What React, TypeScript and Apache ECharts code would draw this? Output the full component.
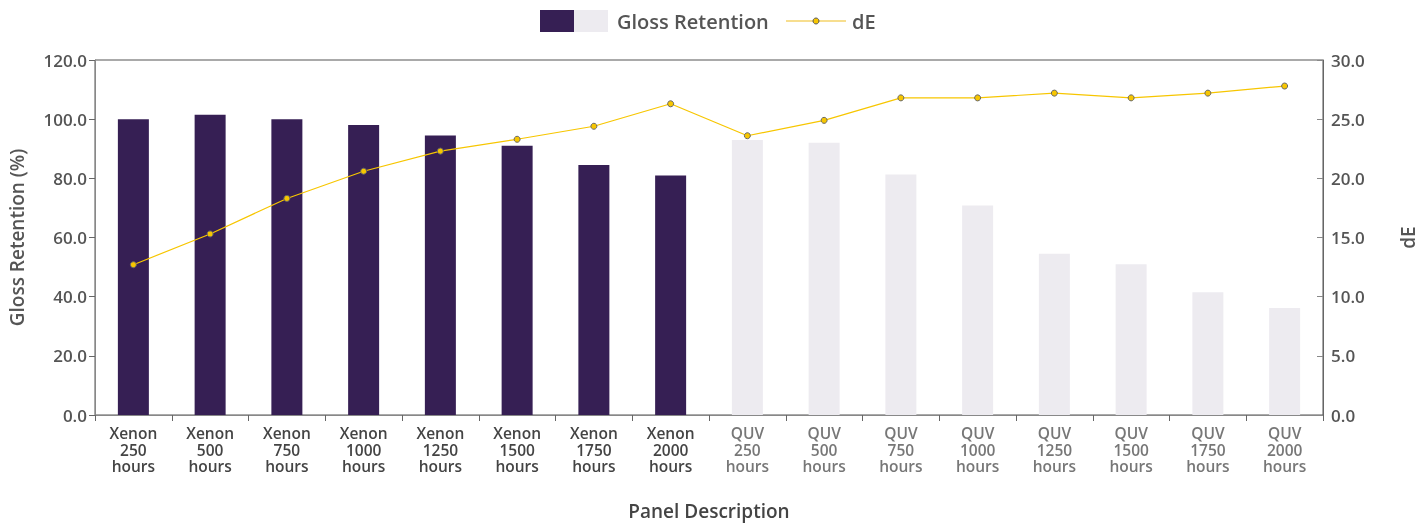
import React, { useEffect, useRef } from "react";
import * as echarts from "echarts";

const categories = [
  "Xenon\n250\nhours", "Xenon\n500\nhours", "Xenon\n750\nhours", "Xenon\n1000\nhours",
  "Xenon\n1250\nhours", "Xenon\n1500\nhours", "Xenon\n1750\nhours", "Xenon\n2000\nhours",
  "QUV\n250\nhours", "QUV\n500\nhours", "QUV\n750\nhours", "QUV\n1000\nhours",
  "QUV\n1250\nhours", "QUV\n1500\nhours", "QUV\n1750\nhours", "QUV\n2000\nhours",
];
const glossRetention = [100, 101.5, 100, 98, 94.5, 91, 84.5, 81, 93, 92, 81.3, 70.8, 54.5, 51, 41.5, 36.2];
const dE = [12.7, 15.3, 18.3, 20.6, 22.3, 23.3, 24.4, 26.3, 23.6, 24.9, 26.8, 26.8, 27.2, 26.8, 27.2, 27.8];
const leftTicks = { min: 0, max: 120, interval: 20 };
const rightTicks = { min: 0, max: 30, interval: 5 };

const DARK = "#361f54";
const LIGHT = "#edebf0";
const YELLOW = "#f7c600";
const FONT = "Open Sans";

export default function App() {
  const ref = useRef<HTMLDivElement>(null);
  useEffect(() => {
    const chart = echarts.init(ref.current!, null, { renderer: "svg" });
    const isXenon = (c: string) => c.startsWith("Xenon");
    chart.setOption({
      animation: false,
      textStyle: { fontFamily: FONT },
      grid: {
        left: 95, right: 104, top: 60, bottom: 109,
        outerBoundsMode: "none", containLabel: false,
        show: true, borderColor: "#555", borderWidth: 1, backgroundColor: "transparent",
      },
      graphic: [
        { type: "rect", shape: { x: 540, y: 10, width: 34, height: 22 }, style: { fill: DARK } },
        { type: "rect", shape: { x: 574, y: 10, width: 34, height: 22 }, style: { fill: LIGHT } },
        { type: "text", x: 617, y: 21, style: { text: "Gloss Retention", fill: "#555", font: `600 20px "${FONT}"`, verticalAlign: "middle" } },
        { type: "line", shape: { x1: 786, y1: 21, x2: 846, y2: 21 }, style: { stroke: "#f5d36a", lineWidth: 1.5 } },
        { type: "circle", shape: { cx: 816, cy: 21, r: 3 }, style: { fill: YELLOW, stroke: "#555", lineWidth: 1 } },
        { type: "text", x: 852, y: 21, style: { text: "dE", fill: "#555", font: `600 20px "${FONT}"`, verticalAlign: "middle" } },
      ],
      xAxis: {
        type: "category",
        data: categories,
        name: "Panel Description",
        nameLocation: "middle",
        nameGap: 86,
        nameTextStyle: { color: "#444", fontSize: 19, fontWeight: 600, fontFamily: FONT },
        axisLine: { lineStyle: { color: "#888" } },
        axisTick: { show: true, length: 6, lineStyle: { color: "#666" } },
        axisLabel: {
          interval: 0,
          fontSize: 15.5,
          fontWeight: 600,
          lineHeight: 16.5,
          margin: 10,
          color: (v: string) => (isXenon(v) ? "#444" : "#777"),
        },
      },
      yAxis: [
        {
          type: "value",
          ...leftTicks,
          name: "Gloss Retention (%)",
          nameLocation: "middle",
          nameGap: 69,
          nameRotate: 90,
          nameTextStyle: { color: "#555", fontSize: 19, fontWeight: 600, fontFamily: FONT },
          axisLine: { show: true, lineStyle: { color: "#888" } },
          axisTick: { show: true, length: 6, lineStyle: { color: "#666" } },
          splitLine: { show: false },
          axisLabel: { fontSize: 17, fontWeight: 600, color: "#555", margin: 8, formatter: (v: number) => v.toFixed(1) },
        },
        {
          type: "value",
          ...rightTicks,
          name: "dE",
          nameLocation: "middle",
          nameGap: 75,
          nameRotate: 90,
          nameTextStyle: { color: "#555", fontSize: 19, fontWeight: 600, fontFamily: FONT },
          axisLine: { show: true, lineStyle: { color: "#666" } },
          axisTick: { show: true, length: 6, inside: true, lineStyle: { color: "#888" } },
          splitLine: { show: false },
          axisLabel: { fontSize: 17, fontWeight: 600, color: "#555", margin: 8, formatter: (v: number) => v.toFixed(1) },
        },
      ],
      series: [
        {
          name: "Gloss Retention",
          type: "bar",
          yAxisIndex: 0,
          barWidth: 31,
          data: glossRetention.map((v, i) => ({
            value: v,
            itemStyle: { color: isXenon(categories[i]) ? DARK : LIGHT },
          })),
        },
        {
          name: "dE",
          type: "line",
          yAxisIndex: 1,
          data: dE,
          symbol: "circle",
          symbolSize: 6,
          lineStyle: { color: YELLOW, width: 1.2 },
          itemStyle: { color: YELLOW, borderColor: "#666", borderWidth: 1 },
        },
      ],
    });
    return () => chart.dispose();
  }, []);
  return <div ref={ref} style={{ position: "fixed", left: 0, top: 0, width: 1427, height: 524 }} />;
}
